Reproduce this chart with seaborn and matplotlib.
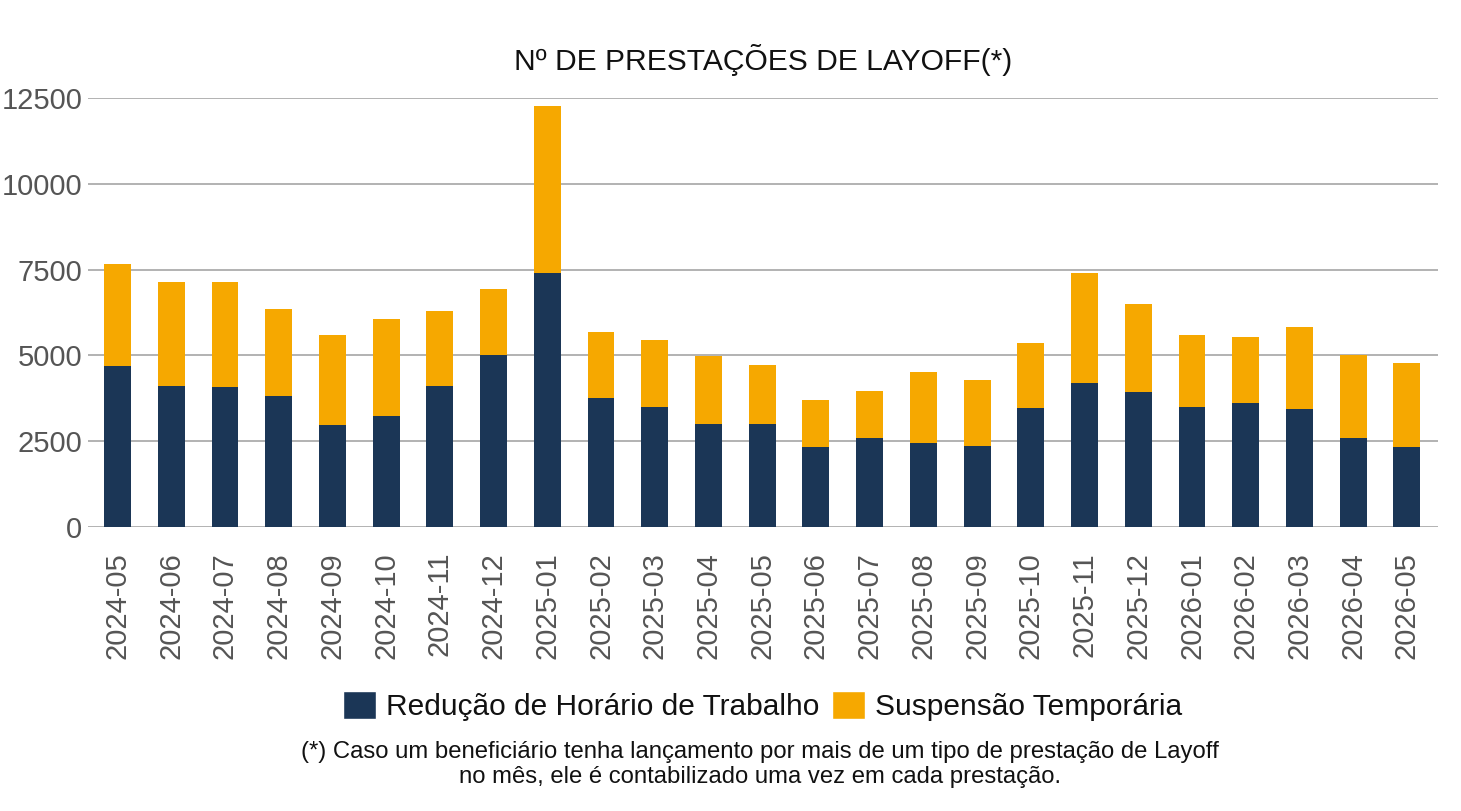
import matplotlib
matplotlib.use("Agg")
import matplotlib.pyplot as plt
import seaborn as sns
import pandas as pd
from matplotlib.patches import Patch

# Data
meses = ["2024-05", "2024-06", "2024-07", "2024-08", "2024-09", "2024-10", "2024-11",
         "2024-12", "2025-01", "2025-02", "2025-03", "2025-04", "2025-05", "2025-06",
         "2025-07", "2025-08", "2025-09", "2025-10", "2025-11", "2025-12", "2026-01",
         "2026-02", "2026-03", "2026-04", "2026-05"]
reducao = [4680, 4100, 4085, 3830, 2975, 3240, 4120, 5020, 7400, 3750, 3490, 3000, 3010,
           2335, 2595, 2460, 2370, 3470, 4200, 3920, 3500, 3620, 3435, 2590, 2335]
suspensao = [2970, 3030, 3045, 2530, 2615, 2830, 2170, 1920, 4880, 1930, 1965, 1980, 1710,
             1365, 1370, 2060, 1900, 1890, 3210, 2570, 2100, 1925, 2380, 2410, 2440]
y_ticks = [0, 2500, 5000, 7500, 10000, 12500]

NAVY = "#1b3656"
ORANGE = "#f6a800"

df = pd.DataFrame({"mes": meses, "reducao": reducao, "suspensao": suspensao})
df["total"] = df["reducao"] + df["suspensao"]

sns.set_theme(style="white")
plt.rcParams["font.family"] = ["Liberation Sans", "DejaVu Sans"]

fig = plt.figure(figsize=(14.61, 8.11), dpi=100)
ax = fig.add_axes([0.0602, 0.3502, 0.9241, 0.5290])

# stacked: total in orange, navy drawn on top from zero
sns.barplot(data=df, x="mes", y="total", color=ORANGE, width=0.5, saturation=1,
            linewidth=0, ax=ax, zorder=3)
sns.barplot(data=df, x="mes", y="reducao", color=NAVY, width=0.5, saturation=1,
            linewidth=0, ax=ax, zorder=3)

ax.set_ylim(0, 12500)
ax.set_xlim(-0.55, 24.58)
ax.set_yticks(y_ticks)
ax.set_yticklabels([str(v) for v in y_ticks], fontsize=21, color="#555555")
ax.tick_params(axis="x", labelrotation=90, labelsize=21, labelcolor="#555555", length=0, pad=18)
ax.tick_params(axis="y", length=0, pad=4)
ax.set_xlabel("")
ax.set_ylabel("")
ax.grid(axis="y", color="#a6a6a6", linewidth=1.2, zorder=0)
ax.set_axisbelow(True)
for s in ax.spines.values():
    s.set_visible(False)

fig.text(0.522, 0.926, "Nº DE PRESTAÇÕES DE LAYOFF(*)", ha="center", va="center",
         fontsize=21.6, color="#111111")

handles = [Patch(facecolor=NAVY, label="Redução de Horário de Trabalho"),
           Patch(facecolor=ORANGE, label="Suspensão Temporária")]
fig.legend(handles=handles, loc="center", bbox_to_anchor=(0.522, 0.1295), ncol=2,
           frameon=False, fontsize=21.5, handlelength=1.1, handleheight=1.1,
           handletextpad=0.35, columnspacing=0.4, labelcolor="#111111")

fig.text(0.52, 0.0575,
         "(*) Caso um beneficiário tenha lançamento por mais de um tipo de prestação de Layoff\n"
         "no mês, ele é contabilizado uma vez em cada prestação.",
         ha="center", va="center", fontsize=17.2, color="#111111", linespacing=1.15)

fig.savefig("out.png", dpi=100)
